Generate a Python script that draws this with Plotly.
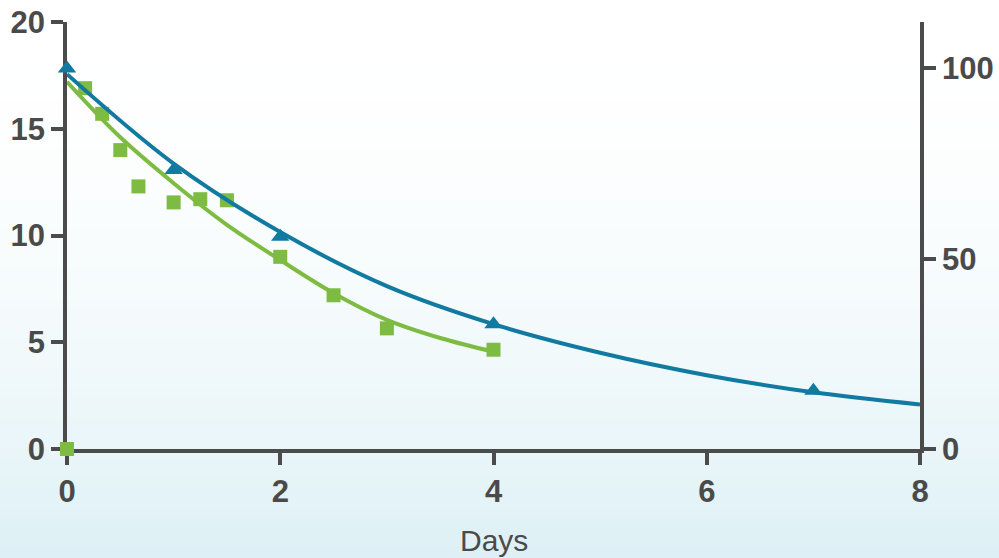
import plotly.graph_objects as go

# ---- data ----
green_days = [0, 0.17, 0.33, 0.5, 0.67, 1.0, 1.25, 1.5, 2.0, 2.5, 3.0, 4.0]
green_vals = [0, 16.9, 15.7, 14.0, 12.3, 11.55, 11.7, 11.65, 9.0, 7.2, 5.65, 4.65]

blue_days = [0, 1, 2, 4, 7]
blue_vals = [100, 73.3, 55.8, 32.8, 15.3]

green_curve_days = [0, 0.5, 1, 1.5, 2, 2.5, 3, 3.5, 4]
green_curve_vals = [17.2, 14.6, 12.45, 10.5, 8.85, 7.3, 6.05, 5.2, 4.56]

blue_curve_days = [0, 1, 2, 3, 4, 5, 6, 7, 8]
blue_curve_vals = [98.5, 75.0, 57.0, 42.8, 32.8, 25.3, 19.4, 14.9, 11.7]

x_ticks = [0, 2, 4, 6, 8]
y_ticks = [0, 5, 10, 15, 20]
y2_ticks = [0, 50, 100]

GREEN = "#7dbb42"
BLUE = "#117aa0"
AXIS = "#4b4b4b"
TEXT = "#4a4a4a"

fig = go.Figure()

fig.add_trace(go.Scatter(x=blue_curve_days, y=blue_curve_vals, yaxis="y2", mode="lines",
                         line=dict(color=BLUE, width=4, shape="spline"), cliponaxis=False,
                         hoverinfo="skip"))
fig.add_trace(go.Scatter(x=blue_days, y=blue_vals, yaxis="y2", mode="markers",
                         marker=dict(symbol="triangle-up", size=16, color=BLUE), cliponaxis=False))
fig.add_trace(go.Scatter(x=green_curve_days, y=green_curve_vals, mode="lines",
                         line=dict(color=GREEN, width=4, shape="spline"), cliponaxis=False,
                         hoverinfo="skip"))
fig.add_trace(go.Scatter(x=green_days, y=green_vals, mode="markers",
                         marker=dict(symbol="square", size=14, color=GREEN), cliponaxis=False))

# background gradient (white top -> pale blue bottom)
W, H = 999, 558
L, R, T, B = 67, 79, 22, 109
pw, ph = W - L - R, H - T - B
shapes = []
n = 56
top = (255, 255, 255)
bot = (221, 240, 245)
for i in range(n):
    y0px = i * H / n
    y1px = (i + 1) * H / n
    t = ((y0px + y1px) / 2) / H
    f = t ** 2
    c = tuple(round(top[k] + (bot[k] - top[k]) * f) for k in range(3))
    shapes.append(dict(type="rect", xref="paper", yref="paper",
                       x0=-L / pw - 0.02, x1=1 + R / pw + 0.02,
                       y0=(H - B - y1px) / ph - 0.001, y1=(H - B - y0px) / ph + 0.001,
                       fillcolor="rgb(%d,%d,%d)" % c, line=dict(width=0), layer="below"))

tickfont = dict(family="Liberation Sans, Arial, sans-serif", size=31, color=TEXT, weight="bold")

common = dict(showgrid=False, zeroline=False, showline=True, linecolor=AXIS, linewidth=3.5,
              ticks="outside", ticklen=12, tickwidth=3.5, tickcolor=AXIS,
              tickfont=tickfont, layer="below traces", automargin=False)

fig.update_layout(
    width=W, height=H,
    margin=dict(l=L, r=R, t=T, b=B, autoexpand=False),
    paper_bgcolor="white",
    plot_bgcolor="rgba(0,0,0,0)",
    showlegend=False,
    shapes=shapes,
    xaxis=dict(range=[0, 8], tickvals=x_ticks, **common),
    yaxis=dict(range=[0, 20], tickvals=y_ticks, **common),
    yaxis2=dict(range=[0, 112.2], tickvals=y2_ticks, overlaying="y", side="right", anchor="x",
                **common),
    annotations=[dict(text="Days", xref="paper", yref="paper", x=0.5, y=(449 - 540) / ph,
                      xanchor="center", yanchor="middle", showarrow=False,
                      font=dict(family="Liberation Sans, Arial, sans-serif", size=30, color=TEXT))],
)

fig.write_html("out.html", config={"displayModeBar": False},
               post_script="document.body.style.margin='0';document.body.style.padding='0';"
                           "document.body.style.overflow='hidden';")
